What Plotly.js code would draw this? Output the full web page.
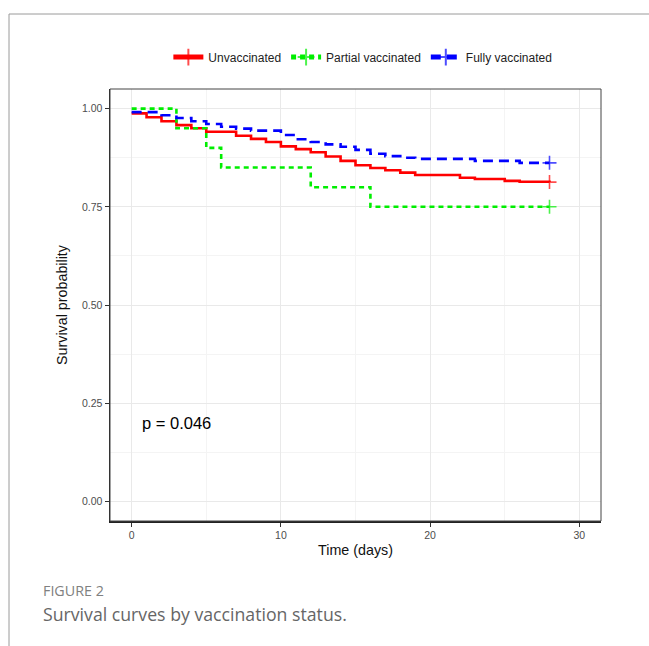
<!DOCTYPE html>
<html>
<head>
<meta charset="utf-8">
<script src="https://cdn.plot.ly/plotly-3.0.1.min.js"></script>
<style>html,body{margin:0;padding:0;background:#fff;}#chart{width:649px;height:646px;}</style>
</head>
<body>
<div id="chart"></div>
<script>
// Data
const seriesNames = ["Unvaccinated", "Partial vaccinated", "Fully vaccinated"];
const unvacTime = [0,1,2,3,4,5,7,8,9,10,11,12,13,14,15,16,17,18,19,22,23,25,26,28];
const unvacSurv = [0.988,0.978,0.968,0.958,0.950,0.941,0.931,0.923,0.915,0.904,0.897,0.889,0.878,0.867,0.856,0.849,0.843,0.837,0.831,0.824,0.821,0.816,0.814,0.813];
const partialTime = [0,3,5,6,12,16,28];
const partialSurv = [1.00,0.95,0.90,0.85,0.80,0.75,0.75];
const fullyTime = [0,2,3,4,5,6,7,8,10,11,12,13,14,15,16,17,18,19,23,26,28];
const fullySurv = [0.991,0.983,0.976,0.968,0.961,0.954,0.949,0.944,0.933,0.922,0.915,0.909,0.903,0.895,0.885,0.879,0.875,0.872,0.867,0.862,0.862];
const xTicks = [0,10,20,30];
const yTicks = [0,0.25,0.5,0.75,1];
const yTickLabels = ["0.00","0.25","0.50","0.75","1.00"];
const pValueText = "p = 0.046";
const captionLabel = "FIGURE 2";
const captionText = "Survival curves by vaccination status.";

function curve(name, t, s, color, dash) {
  const last = t.length - 1;
  return {
    type: 'scatter', mode: 'lines+markers', name: name,
    x: t, y: s,
    line: {shape: 'hv', color: color, width: 2.6, dash: dash},
    marker: {symbol: 'cross-thin-open', color: color,
             size: t.map((v, i) => i === last ? 10 : 0),
             line: {color: color, width: 1.6}},
    hoverinfo: 'skip'
  };
}

const traces = [
  curve(seriesNames[0], unvacTime, unvacSurv, '#ff0000', 'solid'),
  curve(seriesNames[1], partialTime, partialSurv, '#00ee00', '5px,4px'),
  curve(seriesNames[2], fullyTime, fullySurv, '#0000ff', '10px,6px')
];

const axFont = {family: 'Liberation Sans, Arial, sans-serif', size: 10.5, color: '#4d4d4d'};
const titleFont = {family: 'Liberation Sans, Arial, sans-serif', size: 14.3, color: '#111'};

const layout = {
  width: 649, height: 646,
  paper_bgcolor: '#ffffff', plot_bgcolor: '#ffffff',
  margin: {l: 110, r: 48, t: 89, b: 125},
  showlegend: true,
  legend: {orientation: 'h', x: 0.515, xanchor: 'center', y: 1.074, yanchor: 'middle',
           itemsizing: 'constant', font: {family: 'Liberation Sans, Arial, sans-serif', size: 12, color: '#222'},
           itemwidth: 30, tracegroupgap: 0},
  xaxis: {
    range: [-1.45, 31.45], tickvals: xTicks, ticktext: xTicks.map(String),
    showgrid: true, gridcolor: '#e9e9e9', gridwidth: 1,
    minor: {dtick: 5, tick0: 0, showgrid: true, gridcolor: '#f4f4f4', gridwidth: 1},
    zeroline: false, ticks: 'outside', ticklen: 4, tickcolor: '#333', tickwidth: 1,
    showline: true, linecolor: '#222', linewidth: 1.5,
    tickfont: axFont,
    title: {text: 'Time (days)', font: titleFont, standoff: 5}
  },
  yaxis: {
    range: [-0.05, 1.05], tickvals: yTicks, ticktext: yTickLabels,
    showgrid: true, gridcolor: '#e9e9e9', gridwidth: 1,
    minor: {dtick: 0.125, tick0: 0, showgrid: true, gridcolor: '#f4f4f4', gridwidth: 1},
    zeroline: false, ticks: 'outside', ticklen: 4, tickcolor: '#333', tickwidth: 1,
    showline: true, linecolor: '#222', linewidth: 1.5,
    tickfont: axFont,
    title: {text: 'Survival probability', font: titleFont, standoff: 11}
  },
  shapes: [
    {type: 'rect', xref: 'paper', yref: 'paper', x0: 0, x1: 1, y0: 0, y1: 1,
     line: {color: '#444', width: 1}, layer: 'above'},
    {type: 'line', xref: 'paper', yref: 'paper', x0: -0.2057, x1: 1.1, y0: 1.1736, y1: 1.1736,
     line: {color: '#9a9a9a', width: 1}},
    {type: 'line', xref: 'paper', yref: 'paper', x0: -0.2057, x1: -0.2057, y0: 1.1736, y1: -0.29,
     line: {color: '#9a9a9a', width: 1}}
  ],
  annotations: [
    {x: 0.56, y: 0.2, xref: 'x', yref: 'y', text: pValueText, showarrow: false,
     xanchor: 'left', yanchor: 'middle',
     font: {family: 'Liberation Sans, Arial, sans-serif', size: 16.5, color: '#000'}},
    {x: -0.141, y: -0.162, xref: 'paper', yref: 'paper', text: captionLabel, showarrow: false,
     xanchor: 'left', yanchor: 'middle',
     font: {family: 'Open Sans, Lato, sans-serif', size: 14.3, color: '#808080'}},
    {x: -0.141, y: -0.2153, xref: 'paper', yref: 'paper', text: captionText, showarrow: false,
     xanchor: 'left', yanchor: 'middle',
     font: {family: 'Open Sans, Lato, sans-serif', size: 17.7, color: '#666666'}}
  ]
};

Plotly.newPlot('chart', traces, layout, {displayModeBar: false, staticPlot: true});
</script>
</body>
</html>
